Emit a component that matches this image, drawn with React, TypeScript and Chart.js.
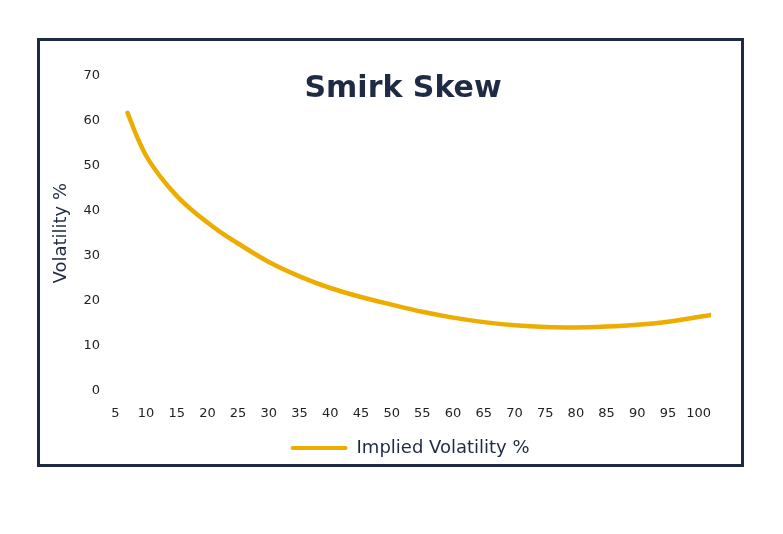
import { useEffect, useRef } from 'react';
import Chart from 'chart.js/auto';

const TITLE = 'Smirk Skew';
const SERIES_LABEL = 'Implied Volatility %';
const Y_TITLE = 'Volatility %';

const STRIKES = [7, 8.5, 10, 12.5, 15, 17.5, 20, 22.5, 25, 30, 35, 40, 45, 50, 55, 60, 65, 70, 75, 80, 85, 90, 95, 102];
const IV = [61.8, 56.6, 52.3, 47.3, 43.3, 40.1, 37.4, 34.9, 32.7, 28.6, 25.4, 22.8, 20.8, 19.1, 17.5, 16.2, 15.2, 14.5, 14.1, 14.0, 14.2, 14.6, 15.3, 16.8];
const X_TICKS = [5, 10, 15, 20, 25, 30, 35, 40, 45, 50, 55, 60, 65, 70, 75, 80, 85, 90, 95, 100];

const C = {
  gold: '#ECAC00',
  navy: '#1F2A44',
  tick: '#222222'
};
const FONT = "'DejaVu Sans', sans-serif";

// the title sits inside the plot area, so it is drawn by hand
const innerTitle = {
  id: 'innerTitle',
  afterDraw(chart: Chart) {
    const { ctx, chartArea } = chart;
    ctx.save();
    ctx.font = `700 30px ${FONT}`;
    ctx.fillStyle = C.navy;
    ctx.textAlign = 'center';
    ctx.textBaseline = 'middle';
    ctx.fillText(TITLE, (chartArea.left + chartArea.right) / 2 - 7, chartArea.top + 13);
    ctx.restore();
  }
};

export default function App() {
  const canvasRef = useRef<HTMLCanvasElement | null>(null);

  useEffect(() => {
    let chart: Chart | null = null;
    if (canvasRef.current) {
      chart = new Chart(canvasRef.current, {
        type: 'line',
        data: {
          datasets: [
            {
              label: SERIES_LABEL,
              data: STRIKES.map((x, i) => ({ x, y: IV[i] })),
              borderColor: C.gold,
              backgroundColor: C.gold,
              borderWidth: 4.5,
              borderCapStyle: 'round',
              pointRadius: 0,
              cubicInterpolationMode: 'monotone'
            }
          ]
        },
        options: {
          animation: false,
          responsive: true,
          maintainAspectRatio: false,
          layout: { padding: { top: 35, left: 11, right: 30, bottom: -3 } },
          plugins: {
            tooltip: { enabled: false },
            legend: {
              position: 'bottom',
              fullSize: false,
              labels: {
                boxWidth: 57,
                boxHeight: 4,
                padding: 3,
                useBorderRadius: true,
                borderRadius: 2,
                color: C.navy,
                font: { family: FONT, size: 18 },
                generateLabels: (c) =>
                  Chart.defaults.plugins.legend.labels.generateLabels(c).map((l) => ({ ...l, lineWidth: 0 }))
              }
            }
          },
          scales: {
            x: {
              type: 'linear',
              min: 4,
              max: 102,
              afterBuildTicks: (axis) => {
                axis.ticks = X_TICKS.map((value) => ({ value }));
              },
              grid: { display: false, drawTicks: false },
              border: { display: false },
              ticks: { color: C.tick, font: { family: FONT, size: 13 }, padding: 15, maxRotation: 0, autoSkip: false }
            },
            y: {
              min: 0,
              max: 70,
              grid: { display: false, drawTicks: false },
              border: { display: false },
              ticks: { stepSize: 10, color: C.tick, font: { family: FONT, size: 13 }, padding: 9 },
              title: {
                display: true,
                text: Y_TITLE,
                color: C.navy,
                font: { family: FONT, size: 18 },
                padding: { top: 0, bottom: 2 }
              }
            }
          }
        },
        plugins: [innerTitle]
      });
    }
    return () => {
      if (chart) chart.destroy();
    };
  }, []);

  return (
    <div
      style={{
        margin: '30px 0 0 29px',
        width: 707,
        height: 429,
        border: `3px solid ${C.navy}`,
        boxSizing: 'border-box',
        background: '#fff'
      }}
    >
      <div style={{ position: 'relative', width: '100%', height: '100%' }}>
        <canvas ref={canvasRef}></canvas>
      </div>
    </div>
  );
}
